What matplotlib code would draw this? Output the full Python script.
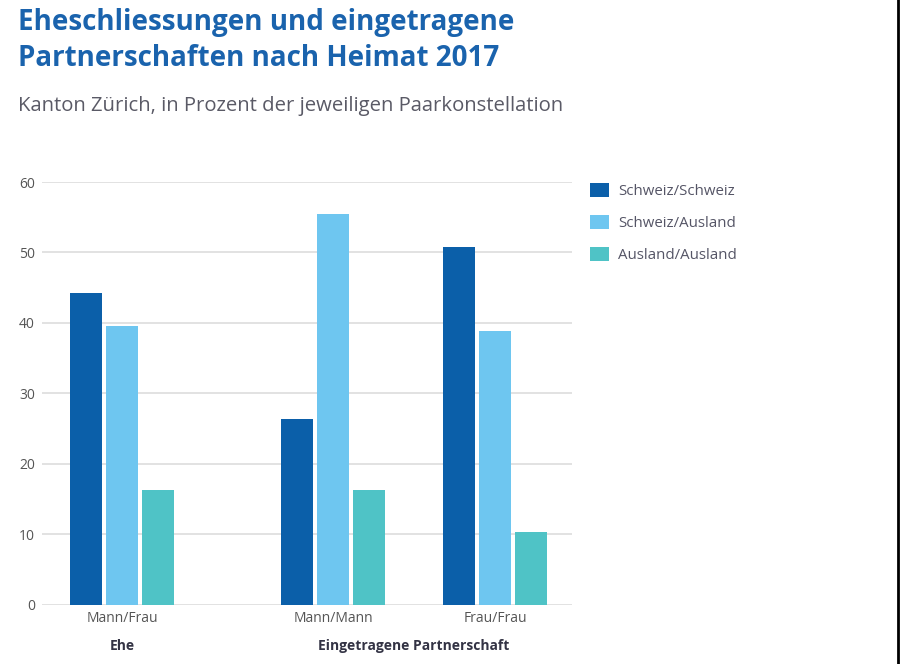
import matplotlib
matplotlib.use("Agg")
import matplotlib.pyplot as plt
from matplotlib.lines import Line2D
from matplotlib.patches import Patch
import numpy as np

plt.rcParams['font.family'] = ['Open Sans', 'DejaVu Sans']

# data
categories = ["Mann/Frau", "Mann/Mann", "Frau/Frau"]
groups = ["Ehe", "Eingetragene Partnerschaft"]
series = ["Schweiz/Schweiz", "Schweiz/Ausland", "Ausland/Ausland"]
schweiz_schweiz = [44.3, 26.4, 50.8]
schweiz_ausland = [39.6, 55.5, 38.9]
ausland_ausland = [16.3, 16.3, 10.4]
colors = ["#0b5fa9", "#6ec6f0", "#4fc3c6"]

# Ehe is set apart from the two partnership groups
x = np.array([0.0, 1.3, 2.3])
width = 0.2
step = 0.222

fig = plt.figure(figsize=(9, 6.64), dpi=100)
ax = fig.add_axes([0.0467, 0.0889, 0.589, 0.637])

for i, (vals, c) in enumerate(zip([schweiz_schweiz, schweiz_ausland, ausland_ausland], colors)):
    ax.bar(x + (i - 1) * step, vals, width, color=c, zorder=3)

ax.set_xlim(-0.494, 2.775)
ax.set_ylim(0, 60)
ax.set_yticks(range(0, 61, 10))
ax.yaxis.grid(True, color="#dddddd", linewidth=1.2, zorder=0)
for s in ax.spines.values():
    s.set_visible(False)
ax.tick_params(axis="y", length=0, pad=5, labelsize=10, labelcolor="#555555")
ax.set_xticks(x)
ax.set_xticklabels(categories)
ax.tick_params(axis="x", length=0, pad=4, labelsize=10, labelcolor="#555555")

# group labels below the category labels
ax.text(x[0], -5.8, groups[0], ha="center", va="center", fontsize=10,
        fontweight="bold", color="#333344")
ax.text((x[1] + x[2]) / 2, -5.8, groups[1], ha="center", va="center", fontsize=10,
        fontweight="bold", color="#333344")

handles = [Patch(facecolor=c, edgecolor="none") for c in colors]
fig.legend(handles, series, loc="upper left", bbox_to_anchor=(0.64, 0.745),
           frameon=False, fontsize=10.8, labelcolor="#555566",
           handlelength=1.3, handleheight=1.1, handletextpad=0.6, labelspacing=1.05)

fig.text(0.02, 0.966, "Eheschliessungen und eingetragene", fontsize=20,
         fontweight="bold", color="#1a63ad", va="center")
fig.text(0.02, 0.912, "Partnerschaften nach Heimat 2017", fontsize=20,
         fontweight="bold", color="#1a63ad", va="center")
fig.text(0.02, 0.841, "Kanton Zürich, in Prozent der jeweiligen Paarkonstellation",
         fontsize=14.6, color="#5a5a66", va="center")

fig.add_artist(Line2D([0.9975, 0.9975], [0, 1], transform=fig.transFigure,
                      color="black", linewidth=2))

fig.savefig("out.png", dpi=100, facecolor="white")
